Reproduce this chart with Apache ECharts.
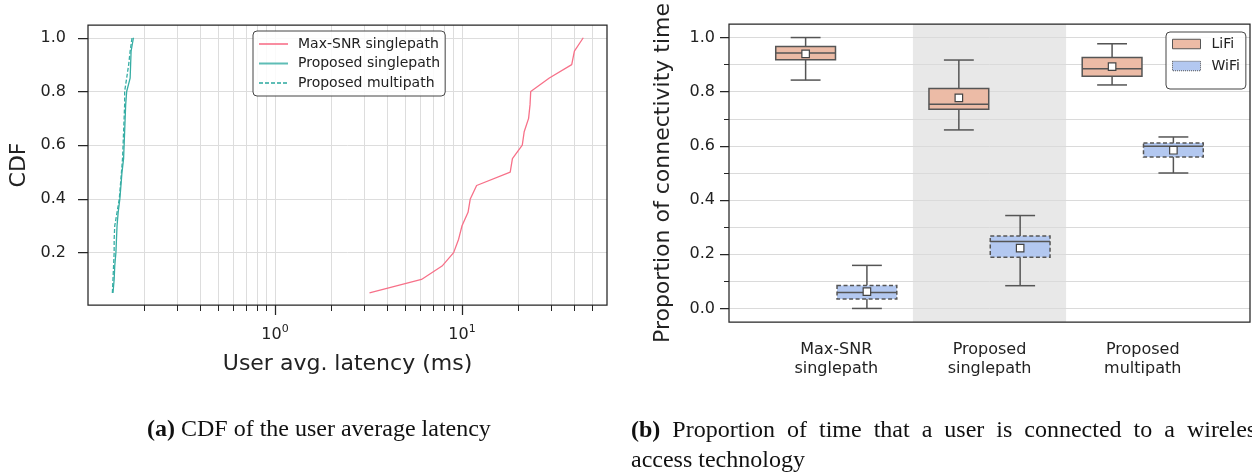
<!DOCTYPE html>
<html><head><meta charset="utf-8">
<script src="https://cdn.jsdelivr.net/npm/echarts@6/dist/echarts.min.js"></script>
<style>html,body{margin:0;padding:0;background:#fff}#c{width:1252px;height:473px}</style>
</head><body><div id="c"></div>
<script>
// ---------- (a) CDF of user average latency ----------
const cdfLevels = [0.05,0.10,0.15,0.20,0.25,0.30,0.35,0.40,0.45,0.50,0.55,0.60,0.65,0.70,0.75,0.80,0.85,0.90,0.95,1.00];
const maxSnrLatency = [3.2,6.07,7.82,9.02,9.59,10.0,10.77,11.07,11.97,18.1,18.6,21.0,21.5,22.7,23.1,23.3,29.3,38.6,39.9,44.5];
const propSingleLatency = [0.136,0.138,0.139,0.141,0.142,0.143,0.145,0.148,0.150,0.152,0.155,0.156,0.157,0.158,0.159,0.161,0.168,0.169,0.170,0.175];
const propMultiLatency = [0.135,0.136,0.137,0.138,0.138,0.139,0.143,0.147,0.149,0.151,0.153,0.154,0.155,0.156,0.157,0.157,0.161,0.165,0.168,0.172];
const latencyMajorTicks = [1, 10];
const latencyMinorTicks = [0.2,0.3,0.4,0.5,0.6,0.7,0.8,0.9,2,3,4,5,6,7,8,9,20,30,40,50];
const cdfTicks = [0.2,0.4,0.6,0.8,1.0];

// ---------- (b) proportion of connectivity time ----------
const categories = ['Max-SNR\nsinglepath','Proposed\nsinglepath','Proposed\nmultipath'];
const lifiMin  = [0.843,0.659,0.825];
const lifiQ1   = [0.918,0.735,0.857];
const lifiMed  = [0.943,0.754,0.885];
const lifiQ3   = [0.967,0.812,0.926];
const lifiMax  = [1.000,0.917,0.977];
const lifiMean = [0.940,0.777,0.893];
const wifiMin  = [0.000,0.084,0.500];
const wifiQ1   = [0.035,0.189,0.559];
const wifiMed  = [0.059,0.247,0.599];
const wifiQ3   = [0.085,0.267,0.611];
const wifiMax  = [0.159,0.343,0.633];
const wifiMean = [0.062,0.223,0.584];
const propMajorTicks = [0.0,0.2,0.4,0.6,0.8,1.0];
const propMinorTicks = [0.1,0.3,0.5,0.7,0.9];
const shadedCategory = 1;

const TXT = '#222222';
const FRAME = '#262626';
const GRIDC = '#dddddd';
const PINK = '#f77189', TEAL = '#36ada4';
const LIFI = '#ecbba6', WIFI = '#b3c8f0';
const EDGE = '#555555';
const FONT = '"DejaVu Sans"';
const SERIF = '"Liberation Serif"';

const chart = echarts.init(document.getElementById('c'), null, {renderer:'canvas'});

function boxRenderer(offset, dashed, fill) {
  const boxW = 0.39;
  return function(params, api) {
    const x = api.value(0) + offset;
    const mn = api.value(1), q1 = api.value(2), md = api.value(3), q3 = api.value(4), mx = api.value(5), mean = api.value(6);
    const w = api.size([boxW, 0])[0];
    const cx = api.coord([x, md])[0];
    const yq1 = api.coord([x, q1])[1], yq3 = api.coord([x, q3])[1];
    const ymd = api.coord([x, md])[1], ymn = api.coord([x, mn])[1], ymx = api.coord([x, mx])[1];
    const ymean = api.coord([x, mean])[1];
    const ls = {stroke: EDGE, lineWidth: 1.5, fill: null};
    const boxStyle = {fill: fill, stroke: EDGE, lineWidth: 1.5};
    if (dashed) boxStyle.lineDash = [4, 2.5];
    const s = 7.5;
    return {type:'group', children:[
      {type:'line', shape:{x1:cx, y1:yq3, x2:cx, y2:ymx}, style:ls},
      {type:'line', shape:{x1:cx, y1:yq1, x2:cx, y2:ymn}, style:ls},
      {type:'line', shape:{x1:cx-w/4, y1:ymx, x2:cx+w/4, y2:ymx}, style:ls},
      {type:'line', shape:{x1:cx-w/4, y1:ymn, x2:cx+w/4, y2:ymn}, style:ls},
      {type:'rect', shape:{x:cx-w/2, y:yq3, width:w, height:yq1-yq3}, style:boxStyle},
      {type:'line', shape:{x1:cx-w/2, y1:ymd, x2:cx+w/2, y2:ymd}, style:ls},
      {type:'rect', shape:{x:cx-s/2, y:ymean-s/2, width:s, height:s}, style:{fill:'#ffffff', stroke:'#444444', lineWidth:1.2}}
    ]};
  };
}

const hideAxisParts = {axisLine:{show:false, onZero:false}, axisLabel:{show:false}};

const option = {
  animation: false,
  backgroundColor: '#ffffff',
  textStyle: {fontFamily: FONT, color: TXT},
  grid: [
    {left: 88, top: 25, width: 519, height: 280, show: true, borderColor: FRAME, borderWidth: 1.25, backgroundColor: 'transparent', containLabel: false, z: 4},
    {left: 729, top: 24, width: 521, height: 298, show: true, borderColor: FRAME, borderWidth: 1.25, backgroundColor: 'transparent', containLabel: false, z: 4}
  ],
  xAxis: [
    {type:'log', logBase:10, gridIndex:0, position:'bottom', min:0.1, max:59.6,
     axisLine:{show:false, onZero:false},
     axisTick:{show:true, customValues: latencyMajorTicks, length:10, inside:false, lineStyle:{color:FRAME, width:1.25}},
     axisLabel:{customValues: latencyMajorTicks, margin: 19, color: TXT,
       formatter: v => '{b|10}{s|' + Math.round(Math.log10(v)) + '}',
       rich:{b:{fontSize:16, fontFamily:FONT, color:TXT}, s:{fontSize:11, fontFamily:FONT, color:TXT, padding:[0,0,10,0]}}},
     splitLine:{show:true, lineStyle:{color:GRIDC, width:1}},
     name:'User avg. latency (ms)', nameLocation:'middle', nameGap:48,
     nameTextStyle:{fontSize:22, color:TXT, fontFamily:FONT}},
    {type:'value', gridIndex:1, position:'bottom', min:-0.7, max:2.7,
     axisLine:{show:false, onZero:false}, axisTick:{show:false}, splitLine:{show:false},
     axisLabel:{customValues:[0,1,2], margin:18, fontSize:16, lineHeight:19, color:TXT, align:'center',
       formatter: v => categories[Math.round(v)]}},
    // minor log ticks + minor vertical grid lines for (a)
    {type:'log', logBase:10, gridIndex:0, position:'bottom', offset:0, min:0.1, max:59.6, ...hideAxisParts,
     axisTick:{show:true, customValues: latencyMinorTicks, length:6, lineStyle:{color:FRAME, width:1}},
     splitLine:{show:true, lineStyle:{color:GRIDC, width:1}}}
  ],
  yAxis: [
    {type:'value', gridIndex:0, position:'left', min:0.005, max:1.0475,
     axisLine:{show:false, onZero:false},
     axisTick:{show:true, customValues: cdfTicks, length:10, lineStyle:{color:FRAME, width:1.25}},
     axisLabel:{customValues: cdfTicks, margin:22, fontSize:16, color:TXT, formatter: v => v.toFixed(1)},
     splitLine:{show:true, lineStyle:{color:GRIDC, width:1}},
     name:'CDF', nameLocation:'middle', nameGap:58, nameRotate:90,
     nameTextStyle:{fontSize:22, color:TXT, fontFamily:FONT}},
    {type:'value', gridIndex:1, position:'left', min:-0.05, max:1.05,
     axisLine:{show:false, onZero:false},
     axisTick:{show:true, customValues: propMajorTicks, length:9, lineStyle:{color:FRAME, width:1.25}},
     axisLabel:{customValues: propMajorTicks, margin:14, fontSize:16, color:TXT, formatter: v => v.toFixed(1)},
     splitLine:{show:true, lineStyle:{color:'#dadada', width:1}},
     name:'Proportion of connectivity time', nameLocation:'middle', nameGap:55, nameRotate:90,
     nameTextStyle:{fontSize:22, color:TXT, fontFamily:FONT}},
    // minor ticks + minor horizontal grid lines for (b)
    {type:'value', gridIndex:1, position:'left', offset:0, min:-0.05, max:1.05, ...hideAxisParts,
     axisTick:{show:true, customValues: propMinorTicks, length:5, lineStyle:{color:FRAME, width:1}},
     splitLine:{show:true, lineStyle:{color:'#dadada', width:1}}}
  ],
  legend: [
    {left:253, top:31, orient:'vertical', itemGap:5.5, itemWidth:29, itemHeight:14,
     padding:[6,5,6,5], backgroundColor:'rgba(255,255,255,0.85)', borderColor:'#444444', borderWidth:1, borderRadius:4,
     itemStyle:{opacity:0}, lineStyle:{width:2, opacity:0.8},
     textStyle:{fontSize:14, color:TXT, fontFamily:FONT, padding:[0,0,0,5]},
     data:['Max-SNR singlepath','Proposed singlepath','Proposed multipath']},
    {left:1166, top:32, orient:'vertical', itemGap:8, itemWidth:28, itemHeight:9.5, icon:'rect',
     padding:[5,6,16,6], backgroundColor:'rgba(255,255,255,0.85)', borderColor:'#444444', borderWidth:1, borderRadius:4,
     textStyle:{fontSize:14, color:TXT, fontFamily:FONT, padding:[0,0,0,6]},
     data:[{name:'LiFi', itemStyle:{color:LIFI, borderColor:EDGE, borderWidth:1}},
           {name:'WiFi', itemStyle:{color:WIFI, borderColor:EDGE, borderWidth:1, borderType:'dotted'}}]}
  ],
  series: [
    {type:'line', name:'Max-SNR singlepath', xAxisIndex:0, yAxisIndex:0, z:3, symbol:'none', showSymbol:false,
     color:PINK, lineStyle:{color:PINK, width:1.3},
     data: cdfLevels.map((c,i) => [maxSnrLatency[i], c])},
    {type:'line', name:'Proposed singlepath', xAxisIndex:0, yAxisIndex:0, z:3, symbol:'none', showSymbol:false,
     color:TEAL, lineStyle:{color:TEAL, width:1.3},
     data: cdfLevels.map((c,i) => [propSingleLatency[i], c])},
    {type:'line', name:'Proposed multipath', xAxisIndex:0, yAxisIndex:0, z:3, symbol:'none', showSymbol:false,
     color:TEAL, lineStyle:{color:TEAL, width:1.3, type:[4,2]},
     data: cdfLevels.map((c,i) => [propMultiLatency[i], c])},

    // right: shaded band behind middle category
    {type:'custom', name:'band', xAxisIndex:1, yAxisIndex:1, z:0, zlevel:0, silent:true,
     data: [[shadedCategory, 0.5]],
     renderItem: (params, api) => {
       const c = api.value(0);
       const x1 = api.coord([c - 0.5, 0.5])[0], x2 = api.coord([c + 0.5, 0.5])[0];
       const cs = params.coordSys;
       return {type:'rect', shape:{x:x1, y:cs.y, width:x2-x1, height:cs.height}, style:{fill:'#e8e8e8'}, z2:-10};
     }},
    {type:'custom', name:'LiFi', xAxisIndex:1, yAxisIndex:1, z:3,
     itemStyle:{color:LIFI, borderColor:EDGE, borderWidth:1},
     encode:{x:0, y:[1,2,3,4,5]},
     data: categories.map((c,i) => [i, lifiMin[i], lifiQ1[i], lifiMed[i], lifiQ3[i], lifiMax[i], lifiMean[i]]),
     renderItem: boxRenderer(-0.2, false, LIFI)},
    {type:'custom', name:'WiFi', xAxisIndex:1, yAxisIndex:1, z:3,
     itemStyle:{color:WIFI, borderColor:EDGE, borderWidth:1},
     encode:{x:0, y:[1,2,3,4,5]},
     data: categories.map((c,i) => [i, wifiMin[i], wifiQ1[i], wifiMed[i], wifiQ3[i], wifiMax[i], wifiMean[i]]),
     renderItem: boxRenderer(0.2, true, WIFI)}
  ],
  graphic: [
    {type:'text', left:147, top:418,
     style:{text:'{b|(a)} CDF of the user average latency', fontSize:24, fontFamily:SERIF, fill:'#111',
       rich:{b:{fontWeight:'bold', fontSize:24, fontFamily:SERIF, fill:'#111'}}}},
    {type:'text', left:631, top:416,
     style:{text:'{b|(b)}  Proportion  of  time  that  a  user  is  connected  to  a  wireless\naccess technology', fontSize:24, lineHeight:30,
       fontFamily:SERIF, fill:'#111',
       rich:{b:{fontWeight:'bold', fontSize:24, lineHeight:30, fontFamily:SERIF, fill:'#111'}}}}
  ]
};
chart.setOption(option);
</script></body></html>
